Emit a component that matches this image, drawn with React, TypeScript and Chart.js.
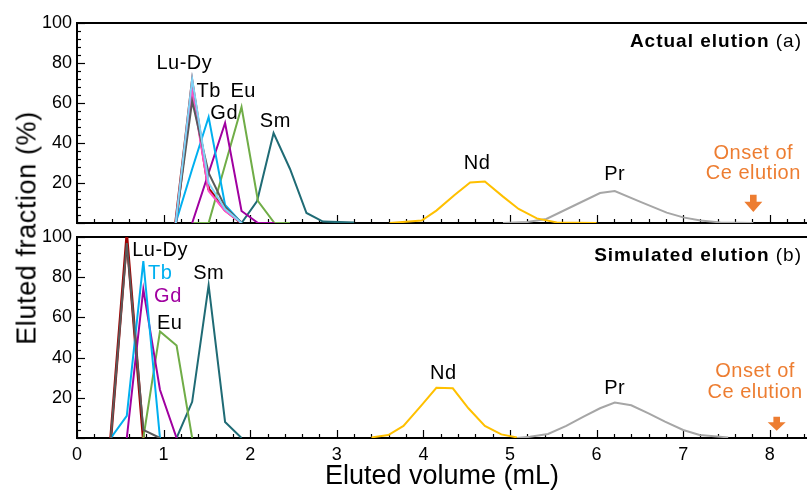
import React, { useEffect, useRef } from "react";
import { Chart, registerables } from "chart.js";
Chart.register(...registerables);

// ---------- Data ----------
const xTickValues = [0, 1, 2, 3, 4, 5, 6, 7, 8];
const yTickValues = [20, 40, 60, 80, 100];

// Panel (a) actual elution
const aLuDyX = [1.14, 1.33, 1.52, 1.71, 1.9];
const aLightY = [0, 72, 20, 7, 0];
const aGrayY = [0, 61, 25, 8, 0];
const aPinkY = [0, 66, 16, 6, 0];
const aRedY = [0, 70, 17, 6.5, 0];
const aTbX = [1.14, 1.33, 1.52, 1.71, 1.9];
const aTbY = [0, 27, 53, 9, 0];
const aGdX = [1.33, 1.52, 1.71, 1.9, 2.09, 2.28];
const aGdY = [0, 25, 50, 6, 0, 0];
const aEuX = [1.33, 1.52, 1.71, 1.9, 2.09, 2.28, 2.46];
const aEuY = [0, 0, 29, 58, 11, 0, 0];
const aSmX = [1.9, 2.08, 2.27, 2.46, 2.65, 2.84, 3.2];
const aSmY = [0, 11, 45, 27, 5, 0.7, 0.2];
const aNdX = [3.61, 3.98, 4.15, 4.36, 4.54, 4.71, 4.92, 5.1, 5.31, 5.54, 6.0];
const aNdY = [0, 1.2, 6.2, 14, 20.3, 20.8, 13.2, 7, 2.3, 0.3, 0];
const aPrX = [4.92, 5.2, 5.42, 5.73, 6.04, 6.21, 6.5, 6.81, 7.0, 7.2, 7.43, 7.81];
const aPrY = [0, 0.5, 2, 8.5, 15, 16, 10.7, 5.2, 2.8, 1.2, 0.3, 0];

// Panel (b) simulated elution
const bRedX = [0.39, 0.575, 0.766];
const bRedY = [0, 100, 0];
const bGrayX = [0.39, 0.575, 0.766, 0.958];
const bGrayY = [0, 97, 4, 0];
const bTbX = [0.39, 0.575, 0.766, 0.958];
const bTbY = [0, 11, 88, 0];
const bGdX = [0.575, 0.766, 0.958, 1.15];
const bGdY = [0, 74, 24, 0];
const bEuX = [0.766, 0.958, 1.15, 1.33];
const bEuY = [0, 53, 46, 0];
const bSmX = [1.15, 1.33, 1.52, 1.71, 1.9];
const bSmY = [0, 18, 76, 8, 0];
const bNdX = [3.4, 3.595, 3.77, 3.98, 4.15, 4.34, 4.52, 4.71, 4.9, 5.08];
const bNdY = [0.3, 1.5, 6, 16.4, 25, 24.7, 14.8, 6, 1.8, 0.3];
const bPrX = [5.08, 5.23, 5.44, 5.65, 5.85, 6.04, 6.21, 6.4, 6.6, 6.79, 7.0, 7.19, 7.52];
const bPrY = [0, 0.6, 2, 6, 10.6, 14.8, 17.6, 16.3, 12.3, 8.1, 4, 1.5, 0.3];

const ORANGE = "#ed7d31";

// Annotations (data coordinates)
const aLabels = [
  { t: "Lu-Dy", x: 1.24, y: 80, c: "#000" },
  { t: "Tb", x: 1.52, y: 66, c: "#000" },
  { t: "Eu", x: 1.92, y: 66, c: "#000" },
  { t: "Gd", x: 1.7, y: 55, c: "#000" },
  { t: "Sm", x: 2.29, y: 51, c: "#000" },
  { t: "Nd", x: 4.62, y: 29.6, c: "#000" },
  { t: "Pr", x: 6.21, y: 24.5, c: "#000" },
  { t: "Onset of", x: 7.81, y: 35, c: ORANGE },
  { t: "Ce elution", x: 7.81, y: 25, c: ORANGE },
];
const bLabels = [
  { t: "Lu-Dy", x: 0.96, y: 93.5, c: "#000" },
  { t: "Tb", x: 0.96, y: 82, c: "#00b0f0" },
  { t: "Gd", x: 1.05, y: 70.3, c: "#a000a0" },
  { t: "Eu", x: 1.07, y: 57, c: "#000" },
  { t: "Sm", x: 1.52, y: 82, c: "#000" },
  { t: "Nd", x: 4.23, y: 32.2, c: "#000" },
  { t: "Pr", x: 6.21, y: 24.7, c: "#000" },
  { t: "Onset of", x: 7.83, y: 33, c: ORANGE },
  { t: "Ce elution", x: 7.83, y: 22.5, c: ORANGE },
];
const aArrow = { x: 7.81, top: 14.1, tip: 5.5 };
const bArrow = { x: 8.08, top: 10.6, tip: 3.6 };

// ---------- helpers ----------
const pts = (xs: number[], ys: number[]) => xs.map((x, i) => ({ x, y: ys[i] }));
const ds = (label: string, xs: number[], ys: number[], color: string, w = 2) => ({
  label,
  data: pts(xs, ys),
  borderColor: color,
  backgroundColor: color,
  borderWidth: w,
  pointRadius: 0,
  fill: false,
  tension: 0,
});

const FONT = '"Liberation Sans", Arial, Helvetica, sans-serif';

function makeDecor(cfg: any) {
  return {
    id: "decor" + cfg.name,
    beforeDatasetsDraw(chart: any) {
      const { ctx, chartArea: a } = chart;
      const x = chart.scales.x;
      const y = chart.scales.y;
      ctx.save();
      ctx.strokeStyle = "#000";
      ctx.lineWidth = 1.2;
      for (let i = 0; i <= 25; i++) {
        const v = i * 4;
        const py = Math.round(y.getPixelForValue(v)) + 0.5;
        const len = v % 20 === 0 ? 8 : 4;
        ctx.beginPath();
        ctx.moveTo(a.left, py);
        ctx.lineTo(a.left + len, py);
        ctx.stroke();
      }
      for (let i = 0; i <= 42; i++) {
        const v = i * 0.2;
        const px = Math.round(x.getPixelForValue(v)) + 0.5;
        const len = i % 5 === 0 ? 8 : 4;
        ctx.beginPath();
        ctx.moveTo(px, a.bottom);
        ctx.lineTo(px, a.bottom - len);
        ctx.stroke();
      }
      ctx.lineWidth = 2;
      ctx.beginPath();
      ctx.moveTo(a.right, a.top);
      ctx.lineTo(a.left, a.top);
      ctx.lineTo(a.left, a.bottom);
      ctx.lineTo(a.right, a.bottom);
      ctx.stroke();
      ctx.restore();
    },
    afterDatasetsDraw(chart: any) {
      const { ctx, chartArea: a } = chart;
      const x = chart.scales.x;
      const y = chart.scales.y;
      ctx.save();
      ctx.textAlign = "center";
      ctx.textBaseline = "middle";
      ctx.font = "20px " + FONT;
      (ctx as any).letterSpacing = "0.5px";
      for (const l of cfg.labels) {
        ctx.fillStyle = l.c;
        ctx.fillText(l.t, x.getPixelForValue(l.x), y.getPixelForValue(l.y));
      }
      // arrow
      const ar = cfg.arrow;
      const ax = x.getPixelForValue(ar.x);
      const yt = y.getPixelForValue(ar.top);
      const yp = y.getPixelForValue(ar.tip);
      const hh = (yp - yt) * 0.6;
      ctx.fillStyle = ORANGE;
      ctx.beginPath();
      ctx.moveTo(ax - 3.3, yt);
      ctx.lineTo(ax + 3.3, yt);
      ctx.lineTo(ax + 3.3, yp - hh);
      ctx.lineTo(ax + 9, yp - hh);
      ctx.lineTo(ax, yp);
      ctx.lineTo(ax - 9, yp - hh);
      ctx.lineTo(ax - 3.3, yp - hh);
      ctx.closePath();
      ctx.fill();
      // panel title
      ctx.fillStyle = "#000";
      ctx.textAlign = "right";
      (ctx as any).letterSpacing = "1px";
      ctx.font = "19px " + FONT;
      const right = a.right - 5;
      const ty = a.top + cfg.titleDy;
      ctx.fillText(cfg.normal, right, ty);
      const w = ctx.measureText(cfg.normal).width;
      ctx.font = "bold 19px " + FONT;
      ctx.fillText(cfg.bold, right - w, ty);
      ctx.restore();
    },
  };
}

function baseOptions(showX: boolean) {
  return {
    responsive: false,
    animation: false as const,
    devicePixelRatio: 1,
    layout: { padding: showX ? { top: 11, bottom: 0, left: 0, right: 0 } : { top: 23, bottom: 3, left: 0, right: 0 } },
    plugins: { legend: { display: false }, tooltip: { enabled: false } },
    scales: {
      x: {
        type: "linear" as const,
        min: 0,
        max: 8.43,
        display: showX,
        afterBuildTicks: (s: any) => {
          s.ticks = xTickValues.map((v) => ({ value: v }));
        },
        afterFit: (s: any) => {
          if (showX) s.height = 52;
          s.paddingLeft = 0;
          s.paddingRight = 0;
          s.paddingTop = 0;
          s.paddingBottom = 0;
        },
        grid: { display: false, drawTicks: false },
        border: { display: false },
        ticks: { color: "#000", font: { size: 18, family: FONT }, padding: 6, maxRotation: 0 },
        title: {
          display: showX,
          text: "Eluted volume (mL)",
          color: "#000",
          font: { size: 27, family: FONT, lineHeight: 1 },
          padding: 0,
        },
      },
      y: {
        min: 0,
        max: 100,
        afterBuildTicks: (s: any) => {
          s.ticks = yTickValues.map((v) => ({ value: v }));
        },
        afterFit: (s: any) => {
          s.width = 77;
          s.paddingTop = 0;
          s.paddingBottom = 0;
          s.paddingLeft = 0;
          s.paddingRight = 0;
        },
        grid: { display: false, drawTicks: false },
        border: { display: false },
        ticks: { color: "#000", font: { size: 18, family: FONT }, padding: 5 },
      },
    },
  };
}

export default function App() {
  const topRef = useRef<HTMLCanvasElement>(null);
  const botRef = useRef<HTMLCanvasElement>(null);

  useEffect(() => {
    const top = new Chart(topRef.current as HTMLCanvasElement, {
      type: "line",
      data: {
        datasets: [
          ds("Lu", aLuDyX, aLightY, "#7fd3f7"),
          ds("Ho", aLuDyX, aGrayY, "#5a5a5a"),
          ds("Er", aLuDyX, aPinkY, "#ff4fc8"),
          ds("Tb", aTbX, aTbY, "#00b0f0"),
          ds("Gd", aGdX, aGdY, "#a000a0"),
          ds("Eu", aEuX, aEuY, "#70ad47"),
          ds("Sm", aSmX, aSmY, "#1f6b75"),
          ds("Nd", aNdX, aNdY, "#ffc000"),
          ds("Pr", aPrX, aPrY, "#a6a6a6"),
          ds("Dy", aLuDyX, aRedY, "#a00000", 3),
        ],
      },
      options: baseOptions(false) as any,
      plugins: [
        makeDecor({ name: "a", labels: aLabels, arrow: aArrow, bold: "Actual elution", normal: " (a)", titleDy: 19 }),
      ],
    });
    const bot = new Chart(botRef.current as HTMLCanvasElement, {
      type: "line",
      data: {
        datasets: [
          ds("Ho", bGrayX, bGrayY, "#5a5a5a"),
          ds("Tb", bTbX, bTbY, "#00b0f0"),
          ds("Gd", bGdX, bGdY, "#a000a0"),
          ds("Eu", bEuX, bEuY, "#70ad47"),
          ds("Sm", bSmX, bSmY, "#1f6b75"),
          ds("Nd", bNdX, bNdY, "#ffc000"),
          ds("Pr", bPrX, bPrY, "#a6a6a6"),
          ds("Lu-Dy", bRedX, bRedY, "#a00000", 3),
        ],
      },
      options: baseOptions(true) as any,
      plugins: [
        makeDecor({ name: "b", labels: bLabels, arrow: bArrow, bold: "Simulated elution", normal: " (b)", titleDy: 19 }),
      ],
    });
    return () => {
      top.destroy();
      bot.destroy();
    };
  }, []);

  return (
    <div style={{ position: "absolute", left: 0, top: 0, width: 807, height: 490, background: "#fff", overflow: "hidden" }}>
      <canvas ref={topRef} width={807} height={226} style={{ position: "absolute", left: 0, top: 0, display: "block" }} />
      <canvas ref={botRef} width={807} height={264} style={{ position: "absolute", left: 0, top: 226, display: "block" }} />
      <div
        style={{
          position: "absolute",
          left: 27,
          top: 228,
          transform: "translate(-50%, -50%) rotate(-90deg)",
          whiteSpace: "nowrap",
          font: "27px " + FONT,
          letterSpacing: "0.6px",
          color: "#000",
          lineHeight: 1,
        }}
      >
        Eluted fraction (%)
      </div>
    </div>
  );
}
